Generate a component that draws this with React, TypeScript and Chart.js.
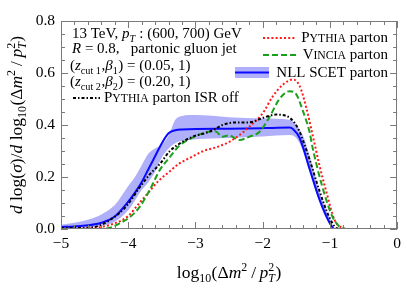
import React, { useEffect, useRef } from "react";
import { Chart, registerables } from "chart.js";

Chart.register(...registerables);

const FONT = '"Liberation Serif", "DejaVu Serif", "Times New Roman", serif';

// ---- data ----
const xTickValues = [-5, -4, -3, -2, -1, 0];
const yTickValues = [0, 0.2, 0.4, 0.6, 0.8];

const scetX = [-5, -4.8, -4.6, -4.4, -4.2, -4.0, -3.9, -3.8, -3.7, -3.6, -3.5, -3.4, -3.3, -3.2, -2.5, -2.0, -1.6, -1.55, -1.45, -1.3, -1.15, -1.0, -0.93, -0.05];
const scetY = [0.008, 0.01, 0.014, 0.024, 0.048, 0.105, 0.14, 0.18, 0.23, 0.28, 0.33, 0.368, 0.38, 0.383, 0.386, 0.388, 0.39, 0.385, 0.35, 0.23, 0.11, 0.022, 0.0, 0.0];

const bandX = [-5, -4.8, -4.6, -4.4, -4.2, -4.0, -3.9, -3.8, -3.7, -3.6, -3.5, -3.4, -3.3, -3.2, -3.0, -2.5, -2.0, -1.6, -1.5, -1.4, -1.3, -1.15, -1.0, -0.92, -0.05];
const bandLow = [0.003, 0.004, 0.006, 0.012, 0.028, 0.072, 0.11, 0.15, 0.18, 0.22, 0.275, 0.31, 0.33, 0.338, 0.345, 0.35, 0.356, 0.362, 0.35, 0.3, 0.215, 0.1, 0.015, 0.0, 0.0];
const bandHigh = [0.016, 0.024, 0.036, 0.056, 0.092, 0.165, 0.2, 0.245, 0.29, 0.31, 0.325, 0.36, 0.42, 0.435, 0.438, 0.43, 0.425, 0.42, 0.4, 0.36, 0.28, 0.14, 0.04, 0.0, 0.0];

const pythiaX = [-5, -4.6, -4.4, -4.2, -4.0, -3.85, -3.7, -3.55, -3.4, -3.25, -3.05, -2.9, -2.65, -2.5, -2.35, -2.15, -2.0, -1.85, -1.7, -1.55, -1.45, -1.35, -1.26, -1.16, -1.05, -0.93, -0.82, -0.7, -0.55];
const pythiaY = [0.0, 0.002, 0.008, 0.022, 0.05, 0.095, 0.14, 0.185, 0.218, 0.25, 0.278, 0.298, 0.318, 0.335, 0.36, 0.405, 0.445, 0.51, 0.555, 0.575, 0.55, 0.465, 0.365, 0.25, 0.14, 0.035, 0.005, 0.0, 0.0];

const vinciaX = [-5, -4.5, -4.27, -4.12, -3.97, -3.83, -3.68, -3.53, -3.38, -3.24, -3.04, -2.84, -2.7, -2.6, -2.5, -2.35, -2.2, -2.05, -1.9, -1.75, -1.6, -1.5, -1.41, -1.3, -1.26, -1.11, -0.96, -0.86, -0.77, -0.55];
const vinciaY = [0.0, 0.0, 0.005, 0.023, 0.047, 0.085, 0.15, 0.227, 0.277, 0.32, 0.352, 0.372, 0.375, 0.355, 0.36, 0.342, 0.355, 0.373, 0.43, 0.5, 0.53, 0.518, 0.46, 0.37, 0.316, 0.16, 0.046, 0.01, 0.0, 0.0];

const isrOffX = [-5, -4.76, -4.52, -4.27, -4.02, -3.83, -3.68, -3.53, -3.38, -3.24, -3.04, -2.84, -2.74, -2.6, -2.39, -2.2, -2.0, -1.8, -1.65, -1.53, -1.45, -1.3, -1.16, -1.01, -0.9, -0.8, -0.55];
const isrOffY = [0.004, 0.004, 0.007, 0.035, 0.09, 0.16, 0.21, 0.25, 0.3, 0.328, 0.355, 0.37, 0.38, 0.4, 0.41, 0.41, 0.427, 0.44, 0.435, 0.41, 0.373, 0.265, 0.15, 0.046, 0.003, 0.0, 0.0];

const infoLine1 = ["13 TeV, ", "p", "T", " : (600, 700) GeV"];
const infoLine2 = ["R", " = 0.8,   partonic gluon jet"];
const infoLine3 = ["(", "z", "cut 1", ",", "β", "1", ") = (0.05, 1)"];
const infoLine4 = ["(", "z", "cut 2", ",", "β", "2", ") = (0.20, 1)"];
const legendPythia = ["Pythia", " parton"];
const legendVincia = ["Vincia", " parton"];
const legendScet = "NLL SCET parton";
const legendIsr = ["Pythia", " parton ISR off"];

// ---- colors / styles ----
const RED = "#ff1a1a";
const GREEN = "#1aa01a";
const BLUE = "#0a0aff";
const BAND = "rgb(176,176,250)";
const BLACK = "#000000";
const FRAME = "#7a7a7a";
const RED_DASH = [2, 2.2];
const GREEN_DASH = [6, 3];
const BLACK_DASH = [3, 2, 1.5, 2];

type Seg = { t?: string; it?: boolean; s?: number; dy?: number; sup?: string; sub?: string; subIt?: boolean };

function fontStr(size: number, it?: boolean) {
  return `${it ? "italic " : ""}${size}px ${FONT}`;
}

function segWidth(ctx: CanvasRenderingContext2D, seg: Seg, base: number) {
  if (seg.sup !== undefined || seg.sub !== undefined) {
    const ss = base * 0.68;
    ctx.font = fontStr(ss, false);
    const w1 = ctx.measureText(seg.sup || "").width;
    ctx.font = fontStr(ss, seg.subIt);
    const w2 = ctx.measureText(seg.sub || "").width;
    return Math.max(w1, w2) + 0.5;
  }
  ctx.font = fontStr(seg.s || base, seg.it);
  return ctx.measureText(seg.t || "").width;
}

function drawRich(ctx: CanvasRenderingContext2D, segs: Seg[], x: number, y: number, base: number, align: "left" | "center" | "right") {
  let w = 0;
  for (const s of segs) w += segWidth(ctx, s, base);
  let cx = align === "center" ? x - w / 2 : align === "right" ? x - w : x;
  ctx.textAlign = "left";
  ctx.textBaseline = "alphabetic";
  for (const s of segs) {
    const sw = segWidth(ctx, s, base);
    if (s.sup !== undefined || s.sub !== undefined) {
      const ss = base * 0.68;
      if (s.sup) {
        ctx.font = fontStr(ss, false);
        ctx.fillText(s.sup, cx, y - base * 0.4);
      }
      if (s.sub) {
        ctx.font = fontStr(ss, s.subIt);
        ctx.fillText(s.sub, cx, y + base * 0.25);
      }
    } else {
      ctx.font = fontStr(s.s || base, s.it);
      ctx.fillText(s.t || "", cx, y + (s.dy || 0));
    }
    cx += sw;
  }
  return w;
}

function smallCaps(word: string, size: number): Seg[] {
  return [
    { t: word[0], s: size },
    { t: word.slice(1).toUpperCase(), s: size * 0.78 },
  ];
}

function fmtX(v: number) {
  if (v === 0) return "0";
  return (v < 0 ? "\u2212" : "") + Math.abs(v).toString();
}

const framePlugin = {
  id: "frameTicks",
  afterDraw(chart: any) {
    const ctx: CanvasRenderingContext2D = chart.ctx;
    const { left, right, top, bottom } = chart.chartArea;
    const xs = chart.scales.x;
    const ys = chart.scales.y;
    ctx.save();
    ctx.strokeStyle = FRAME;
    ctx.lineWidth = 1;
    ctx.setLineDash([]);
    ctx.strokeRect(Math.round(left) + 0.5, Math.round(top) + 0.5, Math.round(right - left) - 1, Math.round(bottom - top) - 1);
    ctx.beginPath();
    for (let i = 0; i <= 25; i++) {
      const v = -5 + i * 0.2;
      const major = i % 5 === 0;
      const len = major ? 7 : 4;
      const px = Math.round(xs.getPixelForValue(v)) + 0.5;
      ctx.moveTo(px, bottom);
      ctx.lineTo(px, bottom - len);
      ctx.moveTo(px, top);
      ctx.lineTo(px, top + len);
    }
    for (let i = 0; i <= 16; i++) {
      const v = i * 0.05;
      const major = i % 4 === 0;
      const len = major ? 7 : 4;
      const py = Math.round(ys.getPixelForValue(v)) + 0.5;
      ctx.moveTo(left, py);
      ctx.lineTo(left + len, py);
      ctx.moveTo(right, py);
      ctx.lineTo(right - len, py);
    }
    ctx.stroke();

    ctx.fillStyle = "#000";
    // axis titles
    const T = 17.5;
    drawRich(
      ctx,
      [
        { t: "log" },
        { sub: "10" },
        { t: "(Δ" },
        { t: "m", it: true },
        { sup: "2" },
        { t: "\u2009/\u2009" },
        { t: "p", it: true },
        { sup: "2", sub: "T", subIt: true },
        { t: ")" },
      ],
      (left + right) / 2,
      278,
      T,
      "center"
    );
    ctx.save();
    ctx.translate(22, (top + bottom) / 2);
    ctx.rotate(-Math.PI / 2);
    drawRich(
      ctx,
      [
        { t: "d", it: true },
        { t: " log(" },
        { t: "σ", it: true },
        { t: ")/" },
        { t: "d", it: true },
        { t: " log" },
        { sub: "10" },
        { t: "(Δ" },
        { t: "m", it: true },
        { sup: "2" },
        { t: "\u2009/\u2009" },
        { t: "p", it: true },
        { sup: "2", sub: "T", subIt: true },
        { t: ")" },
      ],
      0,
      0,
      T,
      "center"
    );
    ctx.restore();

    // info text
    const F = 15;
    drawRich(ctx, [{ t: infoLine1[0] }, { t: infoLine1[1], it: true }, { sub: infoLine1[2], subIt: true }, { t: infoLine1[3] }], 72, 38, F, "left");
    drawRich(ctx, [{ t: infoLine2[0], it: true }, { t: infoLine2[1] }], 72, 53, F, "left");
    drawRich(ctx, [{ t: infoLine3[0] }, { t: infoLine3[1], it: true }, { sub: infoLine3[2] }, { t: infoLine3[3] }, { t: infoLine3[4], it: true }, { sub: infoLine3[5] }, { t: infoLine3[6] }], 70, 70, F, "left");
    drawRich(ctx, [{ t: infoLine4[0] }, { t: infoLine4[1], it: true }, { sub: infoLine4[2] }, { t: infoLine4[3] }, { t: infoLine4[4], it: true }, { sub: infoLine4[5] }, { t: infoLine4[6] }], 70, 86, F, "left");

    // ISR-off legend entry
    ctx.lineWidth = 2;
    ctx.strokeStyle = BLACK;
    ctx.setLineDash(BLACK_DASH);
    ctx.beginPath();
    ctx.moveTo(73, 98);
    ctx.lineTo(100, 98);
    ctx.stroke();
    drawRich(ctx, [...smallCaps(legendIsr[0], F), { t: legendIsr[1] }], 104, 102, F, "left");

    // right legend
    ctx.strokeStyle = RED;
    ctx.setLineDash(RED_DASH);
    ctx.beginPath();
    ctx.moveTo(263, 38);
    ctx.lineTo(296, 38);
    ctx.stroke();
    drawRich(ctx, [...smallCaps(legendPythia[0], F), { t: legendPythia[1] }], 388, 42, F, "right");

    ctx.strokeStyle = GREEN;
    ctx.setLineDash(GREEN_DASH);
    ctx.beginPath();
    ctx.moveTo(263, 55);
    ctx.lineTo(296, 55);
    ctx.stroke();
    drawRich(ctx, [...smallCaps(legendVincia[0], F), { t: legendVincia[1] }], 388, 59, F, "right");

    ctx.fillStyle = BAND;
    ctx.fillRect(235, 67, 34, 11);
    ctx.strokeStyle = BLUE;
    ctx.setLineDash([]);
    ctx.beginPath();
    ctx.moveTo(235, 72.5);
    ctx.lineTo(269, 72.5);
    ctx.stroke();
    ctx.fillStyle = "#000";
    drawRich(ctx, [{ t: legendScet }], 388, 77, F, "right");
    ctx.restore();
  },
};

function pts(xs: number[], ys: number[]) {
  return xs.map((x, i) => ({ x, y: ys[i] }));
}

export default function App() {
  const ref = useRef<HTMLCanvasElement>(null);
  useEffect(() => {
    if (!ref.current) return;
    const common = { pointRadius: 0, borderWidth: 2, cubicInterpolationMode: "monotone" as const };
    const chart = new Chart(ref.current, {
      type: "line",
      data: {
        datasets: [
          { label: "band low", data: pts(bandX, bandLow), ...common, borderWidth: 0, borderColor: "rgba(0,0,0,0)", fill: false, order: 10 },
          { label: "band high", data: pts(bandX, bandHigh), ...common, borderWidth: 0, borderColor: "rgba(0,0,0,0)", backgroundColor: BAND, fill: "-1", order: 9 },
          { label: "NLL SCET parton", data: pts(scetX, scetY), ...common, borderColor: BLUE, fill: false, order: 5 },
          { label: "Pythia parton", data: pts(pythiaX, pythiaY), ...common, borderColor: RED, borderDash: RED_DASH, fill: false, order: 4 },
          { label: "Vincia parton", data: pts(vinciaX, vinciaY), ...common, borderColor: GREEN, borderDash: GREEN_DASH, fill: false, order: 3 },
          { label: "Pythia parton ISR off", data: pts(isrOffX, isrOffY), ...common, borderColor: BLACK, borderDash: BLACK_DASH, fill: false, order: 2 },
        ],
      },
      options: {
        animation: false,
        responsive: false,
        devicePixelRatio: 1,
        layout: { padding: { top: 21, right: 9, left: 0, bottom: 0 } },
        plugins: { legend: { display: false }, tooltip: { enabled: false } },
        scales: {
          x: {
            type: "linear",
            min: -5,
            max: 0,
            grid: { display: false, drawTicks: false },
            border: { display: false },
            afterBuildTicks: (s: any) => {
              s.ticks = xTickValues.map((v) => ({ value: v }));
            },
            ticks: { color: "#000", font: { family: FONT, size: 15.5 }, padding: 6, maxRotation: 0, autoSkip: false, callback: (v: any) => fmtX(Number(v)) },
            afterFit: (s: any) => {
              s.height = 63;
            },
          },
          y: {
            type: "linear",
            min: 0,
            max: 0.8,
            grid: { display: false, drawTicks: false },
            border: { display: false },
            afterBuildTicks: (s: any) => {
              s.ticks = yTickValues.map((v) => ({ value: v }));
            },
            ticks: { color: "#000", font: { family: FONT, size: 15.5 }, padding: 6, autoSkip: false, callback: (v: any) => Number(v).toFixed(1) },
            afterFit: (s: any) => {
              s.width = 61;
            },
          },
        },
      },
      plugins: [framePlugin],
    } as any);
    return () => chart.destroy();
  }, []);
  return (
    <div style={{ position: "fixed", left: 0, top: 0, width: 407, height: 292, background: "#fff" }}>
      <canvas ref={ref} width={407} height={292} style={{ width: 407, height: 292, display: "block" }} />
    </div>
  );
}
